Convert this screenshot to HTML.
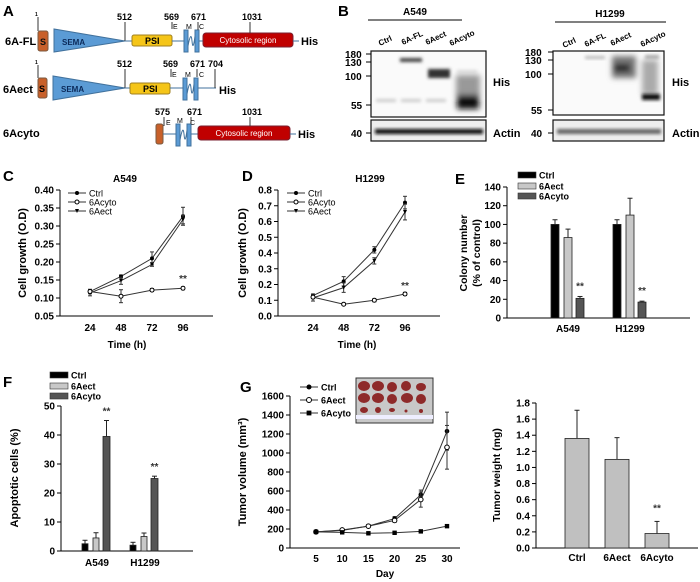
<!DOCTYPE html>
<html><head><meta charset="utf-8"><style>
html,body{margin:0;padding:0;background:#fff;}
svg{display:block;font-family:"Liberation Sans",Arial,sans-serif;}
</style></head><body>
<svg id="fig" width="700" height="582" viewBox="0 0 700 582" xmlns="http://www.w3.org/2000/svg">
<defs>
<filter id="blur1" x="-50%" y="-50%" width="200%" height="200%"><feGaussianBlur stdDeviation="1.5"/></filter>
<filter id="blur2" x="-50%" y="-50%" width="200%" height="200%"><feGaussianBlur stdDeviation="3"/></filter>
</defs>
<!-- Panel A -->
<g font-weight="bold">
<text x="3" y="16" font-size="15">A</text>
<g>
<text x="5" y="45" font-size="11">6A-FL</text>
<line x1="38" y1="17" x2="38" y2="31" stroke="#333"/><text x="35" y="16" font-size="5">1</text>
<rect x="38" y="31" width="10" height="20" rx="2" fill="#c8602a" stroke="#7a5a40"/><text x="40" y="45" font-size="9" fill="#111">S</text>
<polygon points="54,29 54,52 125,41" fill="#5b9bd5" stroke="#41719c"/><text x="62" y="45" font-size="8" fill="#0b2a5a">SEMA</text>
<line x1="125" y1="22" x2="125" y2="41" stroke="#333"/><text x="117" y="20" font-size="9">512</text>
<line x1="125" y1="41" x2="132" y2="41" stroke="#41719c"/>
<rect x="132" y="35" width="40" height="11" rx="2" fill="#f5c518" stroke="#a08020"/><text x="145" y="44" font-size="9">PSI</text>
<line x1="172" y1="22" x2="172" y2="29" stroke="#333"/><text x="164" y="20" font-size="9">569</text>
<text x="173" y="29" font-size="7" font-weight="normal">E</text><text x="186" y="29" font-size="7" font-weight="normal">M</text><text x="199" y="29" font-size="7" font-weight="normal">C</text>
<line x1="172" y1="41" x2="184" y2="41" stroke="#41719c"/>
<rect x="184" y="30" width="4" height="22" fill="#5b9bd5" stroke="#41719c"/><path d="M188 46 Q191 30 192 41 Q193 52 195 36" stroke="#41719c" fill="none"/><rect x="195" y="30" width="4" height="22" fill="#5b9bd5" stroke="#41719c"/>
<line x1="198" y1="22" x2="198" y2="30" stroke="#333"/><text x="191" y="20" font-size="9">671</text>
<line x1="199" y1="41" x2="203" y2="41" stroke="#41719c"/>
<rect x="203" y="33" width="90" height="14" rx="3" fill="#c00000" stroke="#7a2030"/><text x="248" y="43" font-size="8" fill="#fff" text-anchor="middle" font-weight="normal">Cytosolic region</text>
<line x1="250" y1="22" x2="250" y2="33" stroke="#333"/><text x="242" y="20" font-size="9">1031</text>
<line x1="293" y1="41" x2="299" y2="41" stroke="#41719c"/><text x="301" y="45" font-size="11">His</text>
</g>
<g>
<text x="3" y="93" font-size="11">6Aect</text>
<text x="35" y="64" font-size="5">1</text><line x1="38" y1="65" x2="38" y2="78" stroke="#333"/>
<rect x="38" y="78" width="9" height="20" rx="2" fill="#c8602a" stroke="#7a5a40"/><text x="39" y="92" font-size="9">S</text>
<polygon points="53,76 53,100 125,88" fill="#5b9bd5" stroke="#41719c"/><text x="61" y="92" font-size="8" fill="#0b2a5a">SEMA</text>
<line x1="125" y1="69" x2="125" y2="88" stroke="#333"/><text x="117" y="67" font-size="9">512</text>
<line x1="125" y1="88" x2="130" y2="88" stroke="#41719c"/>
<rect x="130" y="83" width="40" height="11" rx="2" fill="#f5c518" stroke="#a08020"/><text x="143" y="92" font-size="9">PSI</text>
<line x1="171" y1="69" x2="171" y2="77" stroke="#333"/><text x="163" y="67" font-size="9">569</text>
<text x="172" y="77" font-size="7" font-weight="normal">E</text><text x="185" y="77" font-size="7" font-weight="normal">M</text><text x="199" y="77" font-size="7" font-weight="normal">C</text>
<line x1="170" y1="88" x2="183" y2="88" stroke="#41719c"/>
<rect x="183" y="78" width="4" height="22" fill="#5b9bd5" stroke="#41719c"/><path d="M187 94 Q190 78 191 88 Q192 100 194 84" stroke="#41719c" fill="none"/><rect x="194" y="78" width="4" height="22" fill="#5b9bd5" stroke="#41719c"/>
<line x1="197" y1="69" x2="197" y2="77" stroke="#333"/><text x="190" y="67" font-size="9">671</text>
<line x1="198" y1="88" x2="216" y2="88" stroke="#41719c"/><line x1="215" y1="69" x2="215" y2="88" stroke="#333"/><text x="208" y="67" font-size="9">704</text>
<text x="219" y="94" font-size="11">His</text>
</g>
<g>
<text x="3" y="137" font-size="11">6Acyto</text>
<text x="155" y="115" font-size="9">575</text><line x1="164" y1="117" x2="164" y2="126" stroke="#333"/>
<text x="166" y="125" font-size="7" font-weight="normal">E</text><text x="177" y="123" font-size="7" font-weight="normal">M</text><text x="190" y="125" font-size="7" font-weight="normal">C</text>
<rect x="156" y="124" width="7" height="20" rx="2" fill="#c8602a" stroke="#7a5a40"/>
<line x1="163" y1="134" x2="176" y2="134" stroke="#41719c"/>
<rect x="176" y="124" width="4" height="22" fill="#5b9bd5" stroke="#41719c"/><path d="M180 140 Q183 124 184 134 Q185 146 187 130" stroke="#41719c" fill="none"/><rect x="187" y="124" width="4" height="22" fill="#5b9bd5" stroke="#41719c"/>
<text x="187" y="115" font-size="9">671</text><line x1="191" y1="117" x2="191" y2="124" stroke="#333"/>
<line x1="191" y1="134" x2="198" y2="134" stroke="#41719c"/>
<rect x="198" y="126" width="92" height="14" rx="3" fill="#c00000" stroke="#7a2030"/><text x="244" y="136" font-size="8" fill="#fff" text-anchor="middle" font-weight="normal">Cytosolic region</text>
<line x1="250" y1="117" x2="250" y2="126" stroke="#333"/><text x="242" y="115" font-size="9">1031</text>
<line x1="290" y1="134" x2="296" y2="134" stroke="#41719c"/><text x="298" y="138" font-size="11">His</text>
</g>
</g>
<!-- Panel B -->
<g font-weight="bold">
<text x="338" y="16" font-size="15">B</text>
<text x="415" y="15" font-size="10" text-anchor="middle">A549</text>
<line x1="368" y1="20" x2="462" y2="20" stroke="#000"/>
<g font-size="8" font-weight="bold">
<text transform="translate(380,46) rotate(-25)">Ctrl</text><text transform="translate(403,45) rotate(-25)">6A-FL</text><text transform="translate(427,45) rotate(-25)">6Aect</text><text transform="translate(451,46) rotate(-25)">6Acyto</text>
</g>
<rect x="371" y="51" width="115" height="66" fill="#fafafa" stroke="#111" stroke-width="1.2"/>
<g filter="url(#blur1)">
<rect x="400" y="58" width="22" height="4" fill="#444"/>
<rect x="428" y="69" width="22" height="9" fill="#333"/>
<rect x="376" y="99" width="20" height="3" fill="#ccc"/><rect x="401" y="99" width="20" height="3" fill="#ccc"/><rect x="426" y="99" width="20" height="3" fill="#ccc"/>
<rect x="457" y="70" width="20" height="3" fill="#ddd"/>
</g>
<g filter="url(#blur2)"><rect x="456" y="75" width="24" height="22" fill="#999"/><rect x="457" y="95" width="22" height="14" fill="#111"/></g>
<g font-size="10"><text x="345" y="58">180</text><text x="345" y="66">130</text><text x="345" y="80">100</text><text x="351" y="109">55</text></g>
<g stroke="#000"><line x1="366" y1="54" x2="371" y2="54"/><line x1="366" y1="62" x2="371" y2="62"/><line x1="366" y1="76" x2="371" y2="76"/><line x1="366" y1="105" x2="371" y2="105"/></g>
<text x="493" y="86" font-size="11">His</text>
<rect x="371" y="120" width="115" height="21" fill="#eee" stroke="#111" stroke-width="1.2"/>
<g filter="url(#blur1)"><rect x="375" y="129" width="108" height="5" fill="#111"/></g>
<text x="351" y="137" font-size="10">40</text><line x1="366" y1="133" x2="371" y2="133" stroke="#000"/>
<text x="493" y="137" font-size="11">Actin</text>

<text x="610" y="17" font-size="10" text-anchor="middle">H1299</text>
<line x1="555" y1="22" x2="666" y2="22" stroke="#000"/>
<g font-size="8" font-weight="bold">
<text transform="translate(564,48) rotate(-25)">Ctrl</text><text transform="translate(586,47) rotate(-25)">6A-FL</text><text transform="translate(612,46) rotate(-25)">6Aect</text><text transform="translate(642,47) rotate(-25)">6Acyto</text>
</g>
<rect x="553" y="51" width="111" height="64" fill="#fafafa" stroke="#111" stroke-width="1.2"/>
<g filter="url(#blur1)"><rect x="585" y="56" width="20" height="3" fill="#bbb"/><rect x="645" y="55" width="14" height="4" fill="#aaa"/></g>
<g filter="url(#blur2)"><rect x="612" y="56" width="24" height="22" fill="#777"/><rect x="614" y="64" width="16" height="8" fill="#222"/><rect x="642" y="60" width="16" height="35" fill="#aaa"/></g>
<g filter="url(#blur1)"><rect x="642" y="94" width="18" height="6" fill="#111"/></g>
<g font-size="10"><text x="525" y="56">180</text><text x="525" y="64">130</text><text x="525" y="78">100</text><text x="531" y="114">55</text></g>
<g stroke="#000"><line x1="548" y1="52" x2="553" y2="52"/><line x1="548" y1="60" x2="553" y2="60"/><line x1="548" y1="74" x2="553" y2="74"/><line x1="548" y1="110" x2="553" y2="110"/></g>
<text x="672" y="86" font-size="11">His</text>
<rect x="553" y="120" width="111" height="21" fill="#eee" stroke="#111" stroke-width="1.2"/>
<g filter="url(#blur1)"><rect x="557" y="129" width="104" height="5" fill="#666"/></g>
<text x="531" y="137" font-size="10">40</text><line x1="548" y1="133" x2="553" y2="133" stroke="#000"/>
<text x="672" y="137" font-size="11">Actin</text>
</g>
<g>
<rect x="356" y="378" width="77" height="45" fill="#c8c8c8" stroke="#333"/>
<g fill="#8e2a2a">
<ellipse cx="364" cy="386" rx="6" ry="5"/><ellipse cx="378" cy="386" rx="6" ry="5"/><ellipse cx="392" cy="387" rx="5" ry="5"/><ellipse cx="406" cy="386" rx="5" ry="5"/><ellipse cx="421" cy="387" rx="5" ry="4"/>
<ellipse cx="364" cy="398" rx="6" ry="5"/><ellipse cx="378" cy="398" rx="6" ry="5"/><ellipse cx="392" cy="399" rx="5" ry="5"/><ellipse cx="407" cy="398" rx="6" ry="5"/><ellipse cx="421" cy="399" rx="5" ry="5"/>
<ellipse cx="364" cy="410" rx="4" ry="3"/><ellipse cx="378" cy="410" rx="3" ry="3"/><ellipse cx="392" cy="410" rx="3" ry="2"/><ellipse cx="406" cy="411" rx="1.5" ry="1.5"/><ellipse cx="421" cy="411" rx="2" ry="2"/>
</g>
<rect x="356" y="415" width="77" height="4" fill="#eef"/>
</g>
<g id="charts"></g>
</svg>
<script>
const timeC = [24, 48, 72, 96];
const cCtrl = [0.118, 0.160, 0.210, 0.327];
const cCtrlErr = [0.006, 0.004, 0.018, 0.025];
const cCyto = [0.118, 0.105, 0.122, 0.127];
const cCytoErr = [0.006, 0.018, 0.004, 0.004];
const cAect = [0.114, 0.148, 0.193, 0.318];
const cAectErr = [0.008, 0.010, 0.005, 0.012];
const cTicks = [0.05, 0.10, 0.15, 0.20, 0.25, 0.30, 0.35, 0.40];

const dCtrl = [0.13, 0.22, 0.42, 0.72];
const dCtrlErr = [0.01, 0.03, 0.02, 0.04];
const dCyto = [0.12, 0.075, 0.10, 0.14];
const dCytoErr = [0.01, 0.005, 0.01, 0.01];
const dAect = [0.115, 0.18, 0.35, 0.66];
const dAectErr = [0.02, 0.03, 0.02, 0.05];
const dTicks = [0.0, 0.1, 0.2, 0.3, 0.4, 0.5, 0.6, 0.7, 0.8];

const eGroups = ["A549", "H1299"];
const eCtrl = [100, 100];
const eCtrlErr = [5, 5];
const eAect = [86, 110];
const eAectErr = [9, 18];
const eCyto = [21, 17];
const eCytoErr = [2, 1];
const eTicks = [0, 20, 40, 60, 80, 100, 120, 140];

const fGroups = ["A549", "H1299"];
const fCtrl = [2.5, 2.0];
const fCtrlErr = [1.2, 1.0];
const fAect = [4.5, 5.0];
const fAectErr = [1.8, 1.2];
const fCyto = [39.5, 25.0];
const fCytoErr = [5.5, 0.8];
const fTicks = [0, 10, 20, 30, 40, 50];

const gDays = [5, 10, 15, 20, 25, 30];
const gCtrl = [170, 185, 230, 310, 560, 1230];
const gCtrlErr = [5, 8, 10, 20, 50, 200];
const gAect = [170, 190, 230, 290, 510, 1060];
const gAectErr = [5, 8, 10, 20, 80, 230];
const gCyto = [170, 165, 155, 160, 175, 230];
const gCytoErr = [5, 5, 5, 5, 8, 15];
const gTicks = [0, 200, 400, 600, 800, 1000, 1200, 1400, 1600];

const wCats = ["Ctrl", "6Aect", "6Acyto"];
const wVals = [1.36, 1.10, 0.18];
const wErr = [0.35, 0.27, 0.15];
const wTicks = [0.0, 0.2, 0.4, 0.6, 0.8, 1.0, 1.2, 1.4, 1.6, 1.8];

const NS = "http://www.w3.org/2000/svg";
const root = document.getElementById('charts');
function mk(tag, attrs, parent) {
  const e = document.createElementNS(NS, tag);
  for (const k in attrs) e.setAttribute(k, attrs[k]);
  (parent || root).appendChild(e);
  return e;
}
function tx(x, y, s, size, anchor, parent) {
  const t = mk('text', {x: x, y: y, 'font-size': size, 'font-weight': 'bold', 'text-anchor': anchor || 'start'}, parent);
  t.textContent = s;
  return t;
}
function lin(d0, d1, r0, r1) { return v => r0 + (v - d0) * (r1 - r0) / (d1 - d0); }

function axes(g, x0, x1, yTop, yBot, ticks, ys, fmt) {
  const ya = mk('line', {x1: x0, y1: yTop, x2: x0, y2: yBot, stroke: '#000'}, g);
  
  
  const xa = mk('line', {x1: x0, y1: yBot, x2: x1, y2: yBot, stroke: '#000'}, g);
  
  
  ticks.forEach(v => {
    mk('line', {x1: x0 - 4, y1: ys(v), x2: x0, y2: ys(v), stroke: '#000'}, g);
    const t = tx(x0 - 6, ys(v) + 3.5, fmt(v), 10, 'end', g);
    
    
  });
}
function marker(g, type, x, y, r) {
  if (type === 'fc') return mk('circle', {cx: x, cy: y, r: r, fill: '#000'}, g);
  if (type === 'oc') return mk('circle', {cx: x, cy: y, r: r, fill: '#fff', stroke: '#000'}, g);
  if (type === 'tri') return mk('polygon', {points: `${x-r},${y-r} ${x+r},${y-r} ${x},${y+r}`, fill: '#000'}, g);
  return mk('rect', {x: x - r, y: y - r, width: 2 * r, height: 2 * r, fill: '#000'}, g);
}
function series(g, xs, ysf, xv, vals, errs, type, r, name) {
  const pts = xv.map((v, i) => xs(v) + ',' + ysf(vals[i])).join(' ');
  const pl = mk('polyline', {points: pts, fill: 'none', stroke: '#333', 'stroke-width': 1}, g);
  
  
  xv.forEach((v, i) => {
    const x = xs(v), y1 = ysf(vals[i] + errs[i]), y2 = ysf(vals[i] - errs[i]);
    mk('line', {x1: x, y1: y1, x2: x, y2: y2, stroke: '#333'}, g);
    mk('line', {x1: x - 2, y1: y1, x2: x + 2, y2: y1, stroke: '#333'}, g);
    mk('line', {x1: x - 2, y1: y2, x2: x + 2, y2: y2, stroke: '#333'}, g);
    const m = marker(g, type, x, ysf(vals[i]), r);
    
    
  });
}
function legendLine(g, x, y, type, label, r) {
  mk('line', {x1: x, y1: y, x2: x + 18, y2: y, stroke: '#333'}, g);
  marker(g, type, x + 9, y, r);
  const t = tx(x + 21, y + 3.5, label, 9, 'start', g);
  
  
}
function legendBar(g, x, y, fill, label) {
  mk('rect', {x: x, y: y - 3, width: 18, height: 6, fill: fill, stroke: '#333', 'stroke-width': 0.6}, g);
  const t = tx(x + 21, y + 3.5, label, 9, 'start', g);
  
  
}
function bar(g, x, w, ysf, v, e, fill, name) {
  const b = mk('rect', {x: x, y: ysf(v), width: w, height: ysf(0) - ysf(v), fill: fill, stroke: '#222', 'stroke-width': 0.8}, g);
  
  
  const cx = x + w / 2;
  mk('line', {x1: cx, y1: ysf(v), x2: cx, y2: ysf(v + e), stroke: '#222'}, g);
  mk('line', {x1: cx - 2.5, y1: ysf(v + e), x2: cx + 2.5, y2: ysf(v + e), stroke: '#222'}, g);
}
function ylabel(g, x, y, s, size) {
  const t = mk('text', {x: 0, y: 0, 'font-size': size || 11, 'font-weight': 'bold', 'text-anchor': 'middle', transform: `translate(${x},${y}) rotate(-90)`}, g);
  t.textContent = s;
  
  
  return t;
}
function stars(g, x, y) { const t = tx(x, y, '**', 10, 'middle', g); t.setAttribute('fill', '#333');   }

(function () {
  const g = mk('g', {});
  
  
  tx(3, 181, 'C', 15, 'start', g);
  tx(125, 182, 'A549', 10, 'middle', g);
  const xs = lin(24, 96, 90, 183), ys = lin(0.05, 0.40, 316, 190);
  axes(g, 60, 213, 190, 316, cTicks, ys, v => v.toFixed(2));
  timeC.forEach(v => { const t = tx(xs(v), 331, String(v), 10, 'middle', g);   });
  tx(127, 348, 'Time (h)', 10, 'middle', g);
  ylabel(g, 26, 253, 'Cell growth (O.D)');
  series(g, xs, ys, timeC, cCtrl, cCtrlErr, 'fc', 2, 'ctrl');
  series(g, xs, ys, timeC, cAect, cAectErr, 'tri', 2, '6aect');
  series(g, xs, ys, timeC, cCyto, cCytoErr, 'oc', 2, '6acyto');
  stars(g, 183, 282);
  legendLine(g, 68, 193, 'fc', 'Ctrl', 2); legendLine(g, 68, 202, 'oc', '6Acyto', 2); legendLine(g, 68, 211, 'tri', '6Aect', 2);
  g.querySelectorAll('text').forEach(t => { if (t.getAttribute('font-size') === '9') t.setAttribute('font-weight', 'normal'); });
})();
(function () {
  const g = mk('g', {});
  
  
  tx(242, 181, 'D', 15, 'start', g);
  tx(370, 182, 'H1299', 10, 'middle', g);
  const xs = lin(24, 96, 313, 405), ys = lin(0, 0.8, 316, 190);
  axes(g, 278, 440, 190, 316, dTicks, ys, v => v.toFixed(1));
  timeC.forEach(v => { const t = tx(xs(v), 331, String(v), 10, 'middle', g);   });
  tx(357, 348, 'Time (h)', 10, 'middle', g);
  ylabel(g, 246, 253, 'Cell growth (O.D)');
  series(g, xs, ys, timeC, dCtrl, dCtrlErr, 'fc', 2, 'ctrl');
  series(g, xs, ys, timeC, dAect, dAectErr, 'tri', 2, '6aect');
  series(g, xs, ys, timeC, dCyto, dCytoErr, 'oc', 2, '6acyto');
  stars(g, 405, 289);
  legendLine(g, 287, 193, 'fc', 'Ctrl', 2); legendLine(g, 287, 202, 'oc', '6Acyto', 2); legendLine(g, 287, 211, 'tri', '6Aect', 2);
  g.querySelectorAll('text').forEach(t => { if (t.getAttribute('font-size') === '9') t.setAttribute('font-weight', 'normal'); });
})();
(function () {
  const g = mk('g', {});
  
  
  tx(455, 184, 'E', 15, 'start', g);
  const ys = lin(0, 140, 318, 187);
  axes(g, 507, 690, 187, 318, eTicks, ys, v => String(v));
  ylabel(g, 467, 253, 'Colony number', 10.5); ylabel(g, 480, 253, '(% of control)', 10.5);
  const starts = [551, 613];
  eGroups.forEach((gr, i) => {
    const x0 = starts[i];
    bar(g, x0, 8, ys, eCtrl[i], eCtrlErr[i], '#000', 'bar-ctrl-' + gr);
    bar(g, x0 + 13, 8, ys, eAect[i], eAectErr[i], '#c8c8c8', 'bar-6aect-' + gr);
    bar(g, x0 + 25, 8, ys, eCyto[i], eCytoErr[i], '#555', 'bar-6acyto-' + gr);
    stars(g, x0 + 29, ys(eCyto[i] + eCytoErr[i]) - 7);
    const t = tx(x0 + 17, 332, gr, 10, 'middle', g);
    
    
  });
  legendBar(g, 518, 175, '#000', 'Ctrl'); legendBar(g, 518, 186, '#c8c8c8', '6Aect'); legendBar(g, 518, 196, '#555', '6Acyto');
})();
(function () {
  const g = mk('g', {});
  
  
  tx(3, 387, 'F', 15, 'start', g);
  const ys = lin(0, 50, 551, 406);
  axes(g, 61, 193, 406, 551, fTicks, ys, v => String(v));
  ylabel(g, 18, 478, 'Apoptotic cells (%)');
  const starts = [82, 130];
  fGroups.forEach((gr, i) => {
    const x0 = starts[i];
    bar(g, x0, 6, ys, fCtrl[i], fCtrlErr[i], '#000', 'bar-ctrl-' + gr);
    bar(g, x0 + 11, 6, ys, fAect[i], fAectErr[i], '#c8c8c8', 'bar-6aect-' + gr);
    bar(g, x0 + 21, 7, ys, fCyto[i], fCytoErr[i], '#555', 'bar-6acyto-' + gr);
    stars(g, x0 + 24.5, ys(fCyto[i] + fCytoErr[i]) - 6);
    const t = tx(x0 + 15, 566, gr, 10, 'middle', g);
    
    
  });
  legendBar(g, 50, 375, '#000', 'Ctrl'); legendBar(g, 50, 386, '#c8c8c8', '6Aect'); legendBar(g, 50, 396, '#555', '6Acyto');
})();
(function () {
  const g = mk('g', {});
  
  
  tx(240, 392, 'G', 15, 'start', g);
  const xs = lin(5, 30, 316, 447), ys = lin(0, 1600, 548, 396);
  axes(g, 290, 460, 396, 548, gTicks, ys, v => String(v));
  gDays.forEach(v => { const t = tx(xs(v), 562, String(v), 10, 'middle', g);   });
  tx(385, 577, 'Day', 10, 'middle', g);
  ylabel(g, 246, 472, 'Tumor volume (mm³)');
  series(g, xs, ys, gDays, gCtrl, gCtrlErr, 'fc', 2.3, 'ctrl');
  series(g, xs, ys, gDays, gAect, gAectErr, 'oc', 2.3, '6aect');
  series(g, xs, ys, gDays, gCyto, gCytoErr, 'sq', 2.2, '6acyto');
  legendLine(g, 300, 387, 'fc', 'Ctrl', 2.5); legendLine(g, 300, 400, 'oc', '6Aect', 2.5); legendLine(g, 300, 413, 'sq', '6Acyto', 2.4);
})();
(function () {
  const g = mk('g', {});
  
  
  const ys = lin(0, 1.8, 548, 403);
  axes(g, 536, 698, 403, 548, wTicks, ys, v => v.toFixed(1));
  ylabel(g, 500, 475, 'Tumor weight (mg)', 10.5);
  const starts = [565, 605, 645];
  wCats.forEach((c, i) => {
    bar(g, starts[i], 24, ys, wVals[i], wErr[i], '#c0c0c0', 'bar-weight-' + c);
    const t = tx(starts[i] + 12, 561, c, 10, 'middle', g);
    
    
  });
  stars(g, starts[2] + 12, ys(wVals[2] + wErr[2]) - 10);
})();
</script>
</body></html>
